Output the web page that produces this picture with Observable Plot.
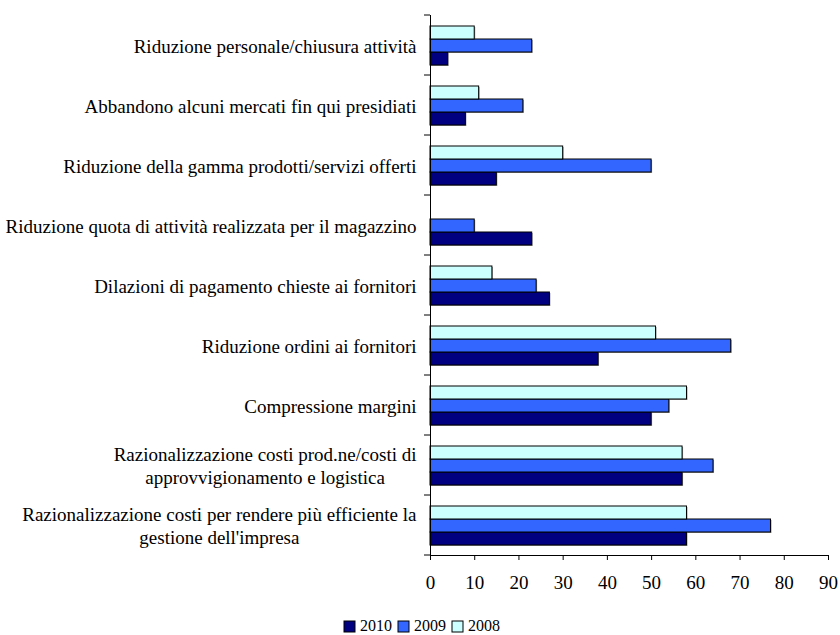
<!DOCTYPE html>
<html>
<head>
<meta charset="utf-8">
<script src="https://cdn.jsdelivr.net/npm/d3@7"></script>
<script src="https://cdn.jsdelivr.net/npm/@observablehq/plot@0.6"></script>
<style>
  html, body { margin: 0; padding: 0; background: #fff; }
  body { position: relative; width: 840px; height: 635px; overflow: hidden; font-family: "Liberation Serif", "Times New Roman", serif; }
  #legend { position: absolute; left: 344px; top: 617px; }
</style>
</head>
<body>
<div id="chart"></div>
<div id="legend"></div>
<script>
// Actions taken by firms (share of respondents, %), top to bottom
const categories = [
  "Riduzione personale/chiusura attività",
  "Abbandono alcuni mercati fin qui presidiati",
  "Riduzione della gamma prodotti/servizi offerti",
  "Riduzione quota di attività realizzata per il magazzino",
  "Dilazioni di pagamento chieste ai fornitori",
  "Riduzione ordini ai fornitori",
  "Compressione margini",
  "Razionalizzazione costi prod.ne/costi di\napprovvigionamento e logistica",
  "Razionalizzazione costi per rendere più efficiente la\ngestione dell'impresa"
];

const years = ["2010", "2009", "2008"];
const values2010 = [4, 8, 15, 23, 27, 38, 50, 57, 58];
const values2009 = [23, 21, 50, 10, 24, 68, 54, 64, 77];
const values2008 = [10, 11, 30, 0, 14, 51, 58, 57, 58];
const yearColors = ["#000080", "#3366ff", "#ccffff"];
const xTicks = [0, 10, 20, 30, 40, 50, 60, 70, 80, 90];

const series = { "2010": values2010, "2009": values2009, "2008": values2008 };
const rows = categories.flatMap((category, i) =>
  years.map(year => ({ category, year, value: series[year][i] }))
);
const drawn = rows.filter(d => d.value > 0);

const font = "'Liberation Serif', 'Times New Roman', serif";

const chart = Plot.plot({
  width: 840,
  height: 605,
  marginLeft: 430,
  marginRight: 12,
  marginTop: 15,
  marginBottom: 50,
  style: `font-family: ${font}; font-size: 19px; color: #000; background: #fff;`,
  x: { domain: [0, 90], ticks: xTicks, tickSize: 5, tickPadding: 15, line: true, label: null },
  fy: { domain: categories, padding: 0, label: null },
  y: { domain: ["2008", "2009", "2010"], paddingInner: 0, paddingOuter: 0.8, axis: null },
  color: { domain: years, range: yearColors },
  marks: [
    // soft shadow under each bar
    Plot.barX(drawn, { fy: "category", y: "year", x: "value", fill: "#9a9a9a", dx: 1, dy: 1 }),
    Plot.barX(drawn, {
      fy: "category", y: "year", x: "value",
      fill: "year", stroke: "#000", strokeWidth: 1
    }),
    Plot.ruleX([0], { stroke: "#000", strokeWidth: 1 }),
    Plot.axisFy({
      anchor: "left", label: null, tickSize: 0, tickPadding: 14,
      lineHeight: 1.2, fontSize: 19, fontFamily: font
    })
  ]
});

document.getElementById("chart").appendChild(chart);

const svg = d3.select(chart);
svg.selectAll("text").style("font-family", font).attr("fill", "#000");

// Category boundary ticks to the left of the vertical axis
const fy = chart.scale("fy");
const x0 = chart.scale("x").apply(0);
const bounds = categories.map(c => fy.apply(c))
  .concat([fy.apply(categories[categories.length - 1]) + fy.bandwidth]);
svg.append("g")
  .attr("stroke", "#000")
  .selectAll("line")
  .data(bounds)
  .join("line")
  .attr("x1", x0 - 6)
  .attr("x2", x0)
  .attr("y1", d => d)
  .attr("y2", d => d);

// Center the lines of two-line category labels within their block
svg.selectAll("text").each(function () {
  const spans = this.querySelectorAll("tspan");
  if (spans.length < 2) return;
  const widths = Array.from(spans, s => s.getComputedTextLength());
  const max = Math.max(...widths);
  spans.forEach((s, i) => s.setAttribute("dx", -(max - widths[i]) / 2));
});

// Legend with outlined swatches
const legend = chart.legend("color", { swatchSize: 11, swatchWidth: 11, swatchHeight: 11 });
document.getElementById("legend").appendChild(legend);
const lg = d3.select(legend);
lg.style("font-family", font).style("font-size", "16px").style("color", "#000")
  .style("min-height", "0").style("margin", "0");
lg.selectAll("span, div").style("font-family", font).style("font-size", "16px")
  .style("color", "#000").style("margin-right", "6px");
lg.selectAll("svg").style("overflow", "visible").style("margin-right", "5px");
lg.selectAll("svg rect").attr("stroke", "#000").attr("stroke-width", 1);
</script>
</body>
</html>
